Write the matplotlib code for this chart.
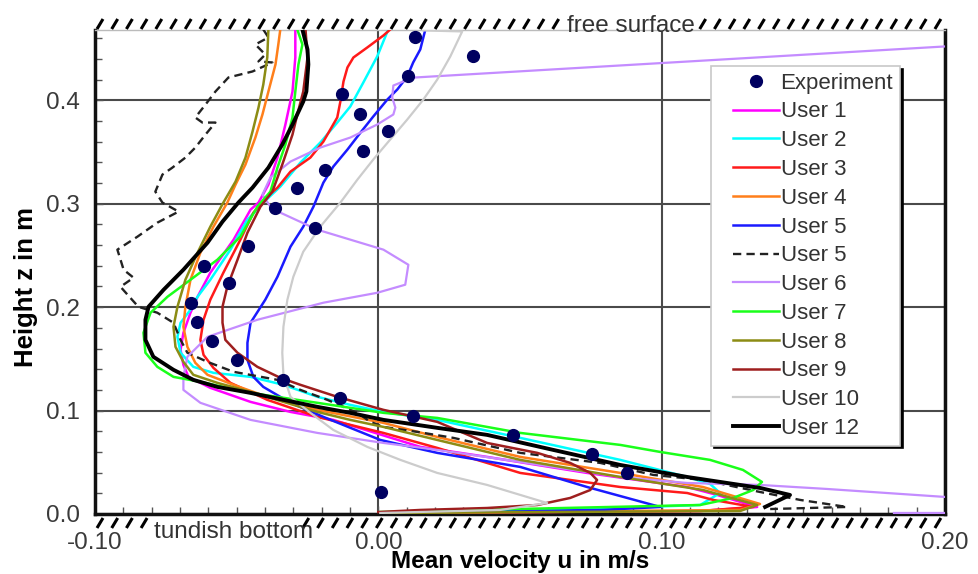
import numpy as np
import matplotlib
matplotlib.use("Agg")
import matplotlib.pyplot as plt
from matplotlib.lines import Line2D
from matplotlib.legend_handler import HandlerLine2D
from matplotlib.ticker import MultipleLocator

plt.rcParams["font.family"] = ["Liberation Sans", "DejaVu Sans"]

# measured velocity profile
exp_u = [0.0131, 0.0335, 0.0106, -0.0127, -0.0063, 0.0035, -0.0053, -0.0187, -0.0286,
         -0.0363, -0.0222, -0.0459, -0.0614, -0.0526, -0.0660, -0.0640, -0.0586, -0.0500,
         -0.0335, -0.0134, 0.0123, 0.0476, 0.0755, 0.0878, 0.0010]
exp_z = [0.461, 0.443, 0.424, 0.406, 0.387, 0.370, 0.351, 0.333, 0.315,
         0.296, 0.277, 0.259, 0.240, 0.223, 0.204, 0.186, 0.167, 0.149,
         0.130, 0.112, 0.095, 0.076, 0.058, 0.040, 0.021]

user1_u = [-0.0293, -0.0293, -0.0303, -0.0328, -0.0356, -0.0388, -0.0423, -0.0451, -0.0511,
           -0.0593, -0.0638, -0.0663, -0.0688, -0.0698, -0.0688, -0.0670, -0.0593, -0.0451,
           -0.0310, -0.0159, 0.0148, 0.0384, 0.0737, 0.1090, 0.1196, 0.1337, 0.1136, 0.0007]
user1_z = [0.4685, 0.4414, 0.4085, 0.3766, 0.3446, 0.3185, 0.3011, 0.2943, 0.2652,
           0.2333, 0.2101, 0.1946, 0.1752, 0.1588, 0.1442, 0.1326, 0.1220, 0.1084,
           0.0987, 0.0910, 0.0649, 0.0552, 0.0397, 0.0261, 0.0184, 0.0068, 0.0029, 0.0010]

user2_u = [0.0035, -0.0004, -0.0053, -0.0099, -0.0145, -0.0205, -0.0275, -0.0346, -0.0406,
           -0.0462, -0.0522, -0.0593, -0.0638, -0.0663, -0.0698, -0.0709, -0.0698, -0.0653,
           -0.0582, -0.0451, -0.0335, -0.0215, -0.0099, 0.0018, 0.0208, 0.0501, 0.0854,
           0.1090, 0.1171, 0.1206, 0.1136, 0.0642, 0.0007]
user2_z = [0.4685, 0.4424, 0.4172, 0.3940, 0.3785, 0.3591, 0.3398, 0.3166, 0.3011,
           0.2846, 0.2556, 0.2265, 0.2101, 0.1975, 0.1849, 0.1713, 0.1559, 0.1423,
           0.1365, 0.1326, 0.1249, 0.1133, 0.1055, 0.0987, 0.0910, 0.0736, 0.0523,
           0.0358, 0.0290, 0.0203, 0.0087, 0.0039, 0.0010]

user3_u = [0.0042, 0.0018, -0.0039, -0.0088, -0.0109, -0.0123, -0.0134, -0.0145, -0.0194,
           -0.0240, -0.0310, -0.0356, -0.0392, -0.0441, -0.0487, -0.0547, -0.0593, -0.0617,
           -0.0628, -0.0617, -0.0582, -0.0522, -0.0392, -0.0215, 0.0018, 0.0208, 0.0501,
           0.0854, 0.1090, 0.1182, 0.1323, 0.1136, 0.0007]
user3_z = [0.4685, 0.4627, 0.4511, 0.4414, 0.4318, 0.4182, 0.3988, 0.3834, 0.3601,
           0.3446, 0.3311, 0.3156, 0.3069, 0.2914, 0.2652, 0.2333, 0.2072, 0.1878,
           0.1684, 0.1539, 0.1413, 0.1268, 0.1104, 0.0939, 0.0784, 0.0639, 0.0397,
           0.0261, 0.0203, 0.0136, 0.0068, 0.0029, 0.0010]

user4_u = [-0.0346, -0.0353, -0.0363, -0.0388, -0.0409, -0.0434, -0.0469, -0.0504, -0.0533,
           -0.0582, -0.0628, -0.0663, -0.0681, -0.0688, -0.0674, -0.0646, -0.0603, -0.0511,
           -0.0392, -0.0215, 0.0018, 0.0208, 0.0501, 0.0854, 0.1146, 0.1347, 0.1277, 0.0007]
user4_z = [0.4685, 0.4540, 0.4347, 0.4085, 0.3863, 0.3640, 0.3379, 0.3185, 0.3011,
           0.2778, 0.2527, 0.2265, 0.2004, 0.1810, 0.1617, 0.1462, 0.1346, 0.1249,
           0.1133, 0.1007, 0.0881, 0.0745, 0.0552, 0.0397, 0.0261, 0.0097, 0.0039, 0.0010]

user5_u = [0.0166, 0.0148, 0.0123, 0.0102, 0.0067, 0.0032, -0.0018, -0.0063, -0.0109,
           -0.0159, -0.0194, -0.0229, -0.0265, -0.0310, -0.0356, -0.0399, -0.0451, -0.0462,
           -0.0462, -0.0441, -0.0406, -0.0310, -0.0194, 0.0007, 0.0208, 0.0501, 0.0737,
           0.0995, 0.0783, 0.0007]
user5_z = [0.4685, 0.4492, 0.4366, 0.4230, 0.4105, 0.4008, 0.3843, 0.3688, 0.3524,
           0.3359, 0.3204, 0.2972, 0.2778, 0.2585, 0.2294, 0.2072, 0.1849, 0.1655,
           0.1491, 0.1326, 0.1229, 0.1075, 0.0939, 0.0716, 0.0591, 0.0455, 0.0261,
           0.0068, 0.0039, 0.0010]

# second User 5 run (dashed)
user5b_u = [-0.0406, -0.0388, -0.0434, -0.0399, -0.0423, -0.0374, -0.0444, -0.0529, -0.0575,
            -0.0610, -0.0646, -0.0621, -0.0575, -0.0610, -0.0646, -0.0681, -0.0727, -0.0762,
            -0.0787, -0.0762, -0.0705, -0.0780, -0.0850, -0.0921, -0.0899, -0.0864, -0.0910,
            -0.0885, -0.0847, -0.0780, -0.0723, -0.0698, -0.0674, -0.0603, -0.0511, -0.0356,
            -0.0275, -0.0180, -0.0074, -0.0028, 0.0018, 0.0138, 0.0265, 0.0501, 0.0783,
            0.0970, 0.1146, 0.1347, 0.1489, 0.1654, 0.1383]
user5b_z = [0.4685, 0.4608, 0.4540, 0.4443, 0.4376, 0.4366, 0.4279, 0.4221, 0.4085,
            0.3959, 0.3834, 0.3785, 0.3785, 0.3669, 0.3543, 0.3446, 0.3349, 0.3282,
            0.3117, 0.3011, 0.2924, 0.2817, 0.2682, 0.2556, 0.2362, 0.2285, 0.2197,
            0.2120, 0.2004, 0.1946, 0.1849, 0.1684, 0.1559, 0.1471, 0.1375, 0.1297,
            0.1200, 0.1104, 0.0978, 0.0891, 0.0842, 0.0794, 0.0736, 0.0591, 0.0494,
            0.0378, 0.0329, 0.0213, 0.0136, 0.0068, 0.0048]

user6_u = [0.215, 0.2000, 0.0131, 0.0088, 0.0053, 0.0049, 0.0060, 0.0053, -0.0004, -0.0099,
           -0.0205, -0.0310, -0.0381, -0.0409, -0.0381, -0.0346, -0.0215, 0.0018, 0.0106,
           0.0095, -0.0004, -0.0194, -0.0427, -0.0603, -0.0674, -0.0688, -0.0688, -0.0628,
           -0.0451, -0.0215, 0.0018, 0.0208, 0.0501, 0.0854, 0.1090, 0.1347, 0.1584, 0.2000,
           0.215, 0.215, 0.182]
user6_z = [0.454, 0.4521, 0.4221, 0.4182, 0.4143, 0.4027, 0.3930, 0.3863, 0.3766, 0.3640,
           0.3543, 0.3408, 0.3253, 0.3088, 0.2972, 0.2914, 0.2749, 0.2556, 0.2410,
           0.2217, 0.2139, 0.2043, 0.1878, 0.1713, 0.1520, 0.1326, 0.1200, 0.1075,
           0.0910, 0.0784, 0.0687, 0.0620, 0.0503, 0.0358, 0.0300, 0.0281, 0.0242, 0.0165,
           0.015, 0.001, 0.001]

user7_u = [-0.0286, -0.0268, -0.0282, -0.0293, -0.0303, -0.0328, -0.0356, -0.0381, -0.0427,
           -0.0487, -0.0568, -0.0663, -0.0744, -0.0804, -0.0829, -0.0822, -0.0780, -0.0723,
           -0.0628, -0.0451, -0.0215, 0.0018, 0.0208, 0.0501, 0.0854, 0.0995, 0.1171, 0.1287,
           0.1354, 0.1323, 0.1252, 0.1136, 0.0653, 0.0007]
user7_z = [0.4685, 0.4540, 0.4347, 0.4085, 0.3834, 0.3572, 0.3349, 0.3117, 0.2972,
           0.2682, 0.2459, 0.2265, 0.2101, 0.1946, 0.1752, 0.1559, 0.1423, 0.1326,
           0.1278, 0.1171, 0.1075, 0.0978, 0.0929, 0.0784, 0.0668, 0.0600, 0.0523, 0.0426,
           0.0310, 0.0232, 0.0155, 0.0087, 0.0058, 0.0019]

user8_u = [-0.0388, -0.0392, -0.0406, -0.0423, -0.0444, -0.0469, -0.0504, -0.0547, -0.0593,
           -0.0638, -0.0681, -0.0709, -0.0723, -0.0716, -0.0688, -0.0653, -0.0568, -0.0451,
           -0.0335, -0.0215, -0.0099, 0.0018, 0.0208, 0.0501, 0.0854, 0.1146, 0.1337, 0.1277,
           0.0007]
user8_z = [0.4685, 0.4414, 0.4153, 0.3930, 0.3698, 0.3446, 0.3214, 0.3011, 0.2778,
           0.2527, 0.2265, 0.2004, 0.1810, 0.1617, 0.1471, 0.1346, 0.1268, 0.1181,
           0.1084, 0.0987, 0.0910, 0.0842, 0.0716, 0.0523, 0.0358, 0.0232, 0.0087, 0.0029,
           0.0010]

user9_u = [-0.0257, -0.0250, -0.0265, -0.0286, -0.0303, -0.0339, -0.0374, -0.0416, -0.0462,
           -0.0497, -0.0533, -0.0550, -0.0550, -0.0540, -0.0497, -0.0427, -0.0346, -0.0275,
           -0.0145, 0.0018, 0.0208, 0.0384, 0.0561, 0.0677, 0.0748, 0.0772, 0.0748, 0.0677,
           0.0561, 0.0384, 0.0148, 0.0]
user9_z = [0.4685, 0.4414, 0.4085, 0.3863, 0.3669, 0.3379, 0.3117, 0.2972, 0.2720,
           0.2459, 0.2198, 0.2004, 0.1849, 0.1684, 0.1559, 0.1423, 0.1317, 0.1249,
           0.1133, 0.1007, 0.0891, 0.0687, 0.0591, 0.0494, 0.0397, 0.0329, 0.0232, 0.0155,
           0.0087, 0.0058, 0.0039, 0.0019]

user10_u = [0.0159, 0.0296, 0.0254, 0.0208, 0.0159, 0.0102, 0.0042, -0.0018, -0.0074,
            -0.0134, -0.0205, -0.0265, -0.0300, -0.0321, -0.0335, -0.0339, -0.0335, -0.0310,
            -0.0240, -0.0159, -0.0039, 0.0078, 0.0208, 0.0384, 0.0596, 0.0430, 0.0007]
user10_z = [0.4676, 0.4666, 0.4424, 0.4201, 0.4008, 0.3814, 0.3621, 0.3427, 0.3233,
            0.3011, 0.2778, 0.2536, 0.2294, 0.2072, 0.1810, 0.1559, 0.1346, 0.1133,
            0.0978, 0.0813, 0.0649, 0.0523, 0.0397, 0.0281, 0.0106, 0.0039, 0.0010]

user12_u = [-0.0268, -0.0250, -0.0247, -0.0254, -0.0265, -0.0303, -0.0339, -0.0388, -0.0444,
            -0.0494, -0.0550, -0.0603, -0.0688, -0.0758, -0.0811, -0.0822, -0.0822, -0.0794,
            -0.0723, -0.0653, -0.0568, -0.0451, -0.0335, -0.0215, -0.0099, 0.0018, 0.0208,
            0.0384, 0.0617, 0.0854, 0.1090, 0.1347, 0.1453, 0.1365]
user12_z = [0.4685, 0.4492, 0.4347, 0.4085, 0.3988, 0.3766, 0.3572, 0.3349, 0.3156,
            0.3011, 0.2827, 0.2623, 0.2362, 0.2168, 0.2004, 0.1878, 0.1684, 0.1520,
            0.1394, 0.1297, 0.1229, 0.1171, 0.1104, 0.1036, 0.0978, 0.0910, 0.0833,
            0.0765, 0.0620, 0.0474, 0.0358, 0.0252, 0.0184, 0.0068]

series = [
    ("User 1", user1_u, user1_z, "#ff00ff", "-", 1.8),
    ("User 2", user2_u, user2_z, "#00ffff", "-", 1.8),
    ("User 3", user3_u, user3_z, "#ff1a1a", "-", 1.8),
    ("User 4", user4_u, user4_z, "#ff7f1a", "-", 1.8),
    ("User 5", user5_u, user5_z, "#1a1aff", "-", 1.8),
    ("User 5", user5b_u, user5b_z, "#222222", (0, (3.5, 2.2)), 1.7),
    ("User 6", user6_u, user6_z, "#c48cff", "-", 1.6),
    ("User 7", user7_u, user7_z, "#1aff1a", "-", 1.8),
    ("User 8", user8_u, user8_z, "#8c8c14", "-", 1.8),
    ("User 9", user9_u, user9_z, "#9e1e1e", "-", 1.8),
    ("User 10", user10_u, user10_z, "#cccccc", "-", 1.6),
    ("User 12", user12_u, user12_z, "#000000", "-", 2.8),
]

W, H = 979, 574
fig = plt.figure(figsize=(W / 100, H / 100), dpi=100)
ax = fig.add_axes([95 / W, 1 - 514 / H, 850 / W, 484 / H])

ax.set_xlim(-0.10, 0.20)
ax.set_ylim(0.0, 0.468)

ax.xaxis.set_major_locator(MultipleLocator(0.10))
ax.xaxis.set_minor_locator(MultipleLocator(0.01))
ax.yaxis.set_major_locator(MultipleLocator(0.1))
ax.yaxis.set_minor_locator(MultipleLocator(0.02))
ax.xaxis.set_major_formatter(lambda v, p: f"{v:.2f}")
ax.yaxis.set_major_formatter(lambda v, p: f"{v:.1f}")

ax.grid(True, which="major", color="#4a4a4a", lw=1.5, zorder=0)
ax.set_axisbelow(True)

ax.tick_params(which="both", direction="in", colors="#555555", labelcolor="#3a3a3a",
               labelsize=17.5, top=False, right=False)
ax.tick_params(axis="x", which="both", pad=13)
ax.tick_params(axis="y", which="both", pad=11)
ax.tick_params(which="major", length=6, width=1)
ax.tick_params(which="minor", length=5, width=1)

for side in ["left", "right", "bottom"]:
    ax.spines[side].set_linewidth(2.5)
    ax.spines[side].set_color("#111111")
    ax.spines[side].set_zorder(1.5)
ax.spines["top"].set_linewidth(1.0)
ax.spines["top"].set_color("#bbbbbb")

handles = []
for name, u, z, color, ls, lw in series:
    line, = ax.plot(u, z, color=color, ls=ls, lw=lw, label=name, zorder=3)
    handles.append(line)

exp, = ax.plot(exp_u, exp_z, "o", color="#000060", ms=8.5, ls="none",
               label="Experiment", zorder=5)

ax.set_xlabel("Mean velocity u in m/s", fontsize=17.5, fontweight="bold", labelpad=-3)
ax.set_ylabel("Height z in m", fontsize=18.5, fontweight="bold")
ax.yaxis.set_label_coords(-0.067, 0.469)

leg = ax.legend([exp] + handles, ["Experiment"] + [s[0] for s in series],
                loc="upper left", bbox_to_anchor=((711 - 95) / 850, (514 - 66) / 484),
                borderaxespad=0, fontsize=16, fancybox=False, framealpha=1,
                edgecolor="#c8c8c8", numpoints=1, handlelength=2.75, handletextpad=0.08,
                labelspacing=0.35, borderpad=0.3,
                handler_map={Line2D: HandlerLine2D(xpad=0.7)},
                shadow={"color": "black", "alpha": 1.0})
leg.get_frame().set_linewidth(1.2)
for txt in leg.get_texts():
    txt.set_color("#333333")
leg.set_zorder(10)


# hatched boundary bands: free surface at the top, tundish bottom below
def hatch_band(x0, x1, y_top, y_bot, gap, step=14.7):
    for x in np.arange(x0 + 2, x1 - 4, step):
        if gap[0] < x < gap[1]:
            continue
        fig.add_artist(Line2D([x / W, (x + 6) / W],
                              [1 - y_bot / H, 1 - y_top / H],
                              color="black", lw=2.2, solid_capstyle="butt"))


hatch_band(95, 948, 19, 29, (557, 686))
hatch_band(95, 948, 518, 528, (146, 290))

fig.text(631 / W, 1 - 26 / H, "free surface", fontsize=17.5, color="#333333",
         ha="center", va="center")
fig.text(234 / W, 1 - 532 / H, "tundish bottom", fontsize=17.5, color="#333333",
         ha="center", va="center")

fig.savefig("out.png", dpi=100)
